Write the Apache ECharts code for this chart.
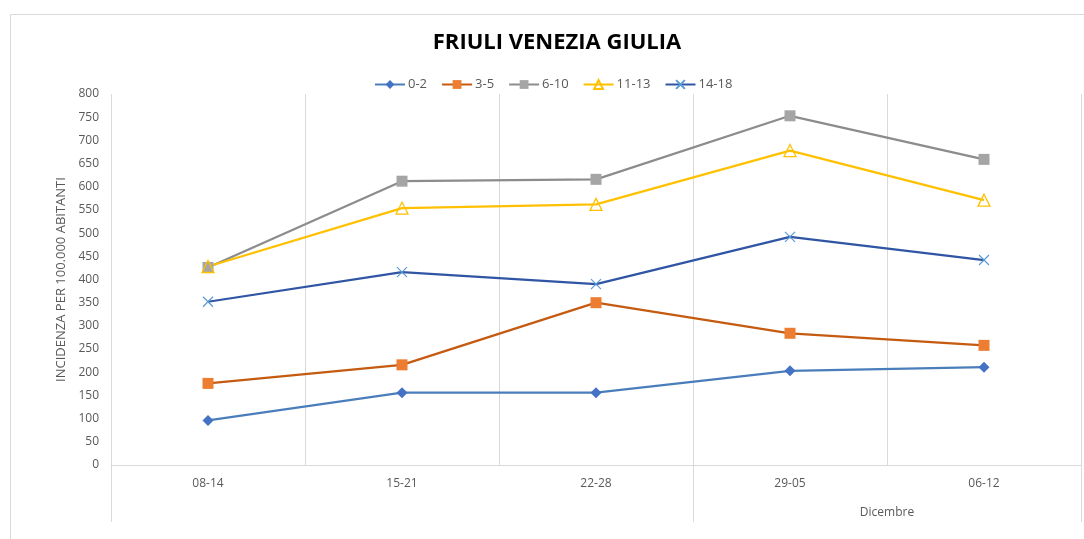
<!DOCTYPE html>
<html>
<head>
<meta charset="utf-8">
<script src="https://cdn.jsdelivr.net/npm/echarts@6/dist/echarts.min.js"></script>
<style>html,body{margin:0;padding:0;background:#fff}#c{width:1084px;height:539px}</style>
</head>
<body>
<div id="c"></div>
<script>
var categories = ['08-14', '15-21', '22-28', '29-05', '06-12'];
var groupLabel = 'Dicembre';
var seriesNames = ['0-2', '3-5', '6-10', '11-13', '14-18'];
var v0_2 = [96, 156, 156, 203, 211];
var v3_5 = [176, 216, 350, 284, 258];
var v6_10 = [426, 612, 616, 753, 659];
var v11_13 = [428, 554, 562, 678, 571];
var v14_18 = [352, 416, 390, 492, 442];

var chart = echarts.init(document.getElementById('c'));
var font = 'Open Sans';
var grey = '#595959';
var gridCol = '#d9d9d9';

function mk(name, data, lineColor, symbol, size, itemStyle) {
  return {
    name: name, type: 'line', data: data, symbol: symbol, symbolSize: size,
    lineStyle: { color: lineColor, width: 2.25 },
    itemStyle: itemStyle,
    z: 3
  };
}

chart.setOption({
  animation: false,
  textStyle: { fontFamily: font },
  graphic: [{
    type: 'rect', left: 8, top: 12, z: -1,
    shape: { width: 1100, height: 560 },
    style: { fill: 'none', stroke: gridCol, lineWidth: 1 }
  }],
  title: {
    text: 'FRIULI VENEZIA GIULIA', left: 552, textAlign: 'center', top: 27,
    textStyle: { fontFamily: font, fontWeight: 'bold', fontSize: 22, color: '#000' }
  },
  legend: {
    top: 73, left: 369, itemWidth: 30, itemHeight: 11, itemGap: 14,
    textStyle: { color: grey, fontSize: 13, fontFamily: font, padding: [0, 0, 0, -2] },
    data: seriesNames
  },
  grid: { left: 111, right: 3, top: 94, bottom: 74, containLabel: false },
  xAxis: [{
    type: 'category', data: categories, boundaryGap: true,
    axisLine: { lineStyle: { color: gridCol, width: 1 } },
    axisTick: { show: false },
    axisLabel: { color: grey, fontSize: 12, margin: 13, fontFamily: font },
    splitLine: { show: true, lineStyle: { color: gridCol, width: 1 } }
  }, {
    type: 'value', min: 0, max: 5, position: 'bottom',
    axisLine: { show: false }, splitLine: { show: false },
    axisTick: { show: true, customValues: [0, 3, 5], length: 57, lineStyle: { color: gridCol, width: 1 } },
    axisLabel: { customValues: [4], formatter: function () { return groupLabel; }, color: grey, fontSize: 12, margin: 42, fontFamily: font }
  }],
  yAxis: {
    type: 'value', min: 0, max: 800, interval: 50,
    axisLine: { show: false }, axisTick: { show: false }, splitLine: { show: false },
    axisLabel: { color: grey, fontSize: 12, margin: 12, fontFamily: font },
    name: 'INCIDENZA PER 100.000 ABITANTI', nameLocation: 'middle', nameRotate: 90, nameGap: 39,
    nameTextStyle: { color: grey, fontSize: 13, fontFamily: font }
  },
  series: [
    mk(seriesNames[0], v0_2, '#4a7ebb', 'diamond', 11, { color: '#4472c4' }),
    mk(seriesNames[1], v3_5, '#c55a11', 'rect', 11, { color: '#ed7d31' }),
    mk(seriesNames[2], v6_10, '#8c8c8c', 'rect', 11, { color: '#a5a5a5' }),
    mk(seriesNames[3], v11_13, '#ffc000', 'triangle', 12, { color: 'rgba(255,255,255,0)', borderColor: '#ffc000', borderWidth: 1.3 }),
    mk(seriesNames[4], v14_18, '#2f55a4', 'path://M0,0L10,10M10,0L0,10', 10, { color: 'rgba(0,0,0,0)', borderColor: '#5b9bd5', borderWidth: 1.2 })
  ]
});
</script>
</body>
</html>
